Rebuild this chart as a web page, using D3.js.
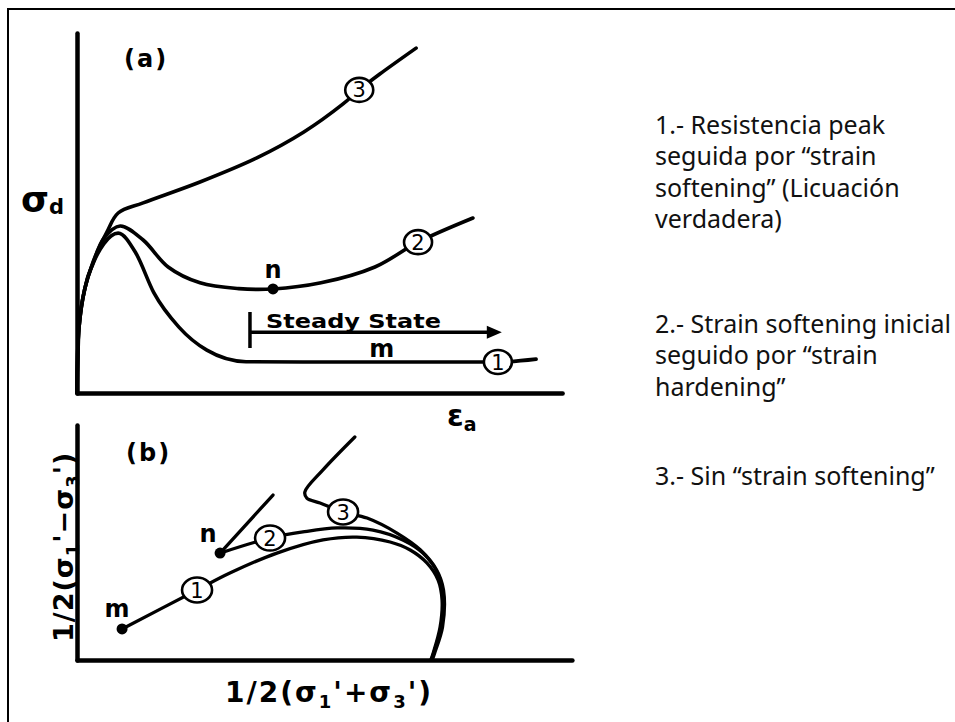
<!DOCTYPE html>
<html>
<head>
<meta charset="utf-8">
<script src="https://cdn.jsdelivr.net/npm/d3@7"></script>
<style>
  html, body { margin: 0; padding: 0; background: #fff; }
  svg { display: block; }
</style>
</head>
<body>
<svg id="fig" width="955" height="722"></svg>
<script>
// ---------- Panel (a): deviator stress vs axial strain ----------
const curveA1 = [[0,0],[0.04,1.8],[0.16,2.9],[0.33,3.6],[0.55,4.15],[0.84,4.44],[1.2,3.89],[1.57,2.78],[2.08,1.83],[2.65,1.19],[3.45,0.87],[4.6,0.86],[5.71,0.86],[7.2,0.86],[8.59,0.86],[9.37,0.94]];
const curveA2 = [[0,0],[0.04,1.8],[0.16,2.9],[0.33,3.62],[0.55,4.3],[0.88,4.64],[1.35,4.25],[1.86,3.5],[2.51,3.06],[3.3,2.9],[4.0,2.89],[4.98,3.06],[6.08,3.5],[6.96,4.19],[8.08,4.86]];
const curveA3 = [[0,0],[0.04,1.8],[0.16,2.9],[0.33,3.65],[0.61,4.47],[0.84,5.0],[1.35,5.28],[2.51,5.86],[3.67,6.53],[4.63,7.25],[5.43,8.03],[5.76,8.42],[6.18,8.86],[6.92,9.58]];
const tagsA = [{n:"1", x:8.59, y:0.86}, {n:"2", x:6.96, y:4.19}, {n:"3", x:5.76, y:8.42}];
const pointNA = {name:"n", x:4.0, y:2.89};
const steadyState = {label:"Steady State", x0:3.53, x1:8.67, y:1.69, tickLo:1.25, tickHi:2.25};
const labelMA = {name:"m", x:6.22, y:1.19};

// ---------- Panel (b): stress path ----------
const curveB1 = [[0.92,1.32],[2.45,2.98],[3.12,3.70],[4.08,4.55],[5.02,5.11],[5.71,5.23],[6.39,5.02],[6.80,4.68],[7.14,4.13],[7.37,3.40],[7.45,2.55],[7.41,1.40],[7.27,0.30],[7.22,0]];
const curveB2 = [[2.92,4.55],[3.94,5.19],[4.61,5.45],[5.31,5.62],[6.04,5.53],[6.65,5.11],[7.06,4.55],[7.36,3.70],[7.47,2.77],[7.43,1.40],[7.28,0.30],[7.23,0]];
const branchB2 = [[2.92,4.55],[4.0,7.02]];
const curveB3 = [[5.67,9.49],[5.02,8.09],[4.65,7.15],[4.69,6.89],[4.96,6.68],[5.43,6.30],[5.92,6.04],[6.53,5.40],[7.01,4.68],[7.34,3.83],[7.48,2.98],[7.46,1.40],[7.30,0.30],[7.25,0]];
const tagsB = [{n:"1", x:2.45, y:2.98}, {n:"2", x:3.94, y:5.19}, {n:"3", x:5.43, y:6.30}];
const pointsB = [{name:"m", x:0.92, y:1.32}, {name:"n", x:2.92, y:4.55}];

// ---------- Notes ----------
const notes = [
  ["1.- Resistencia peak", "seguida por \u201Cstrain", "softening\u201D (Licuaci\u00F3n", "verdadera)"],
  ["2.- Strain softening inicial", "seguido por \u201Cstrain", "hardening\u201D"],
  ["3.- Sin \u201Cstrain softening\u201D"]
];

const svg = d3.select("#fig");
const INK = "#000";
const letterFont = "'DejaVu Sans', sans-serif";

// page frame (top and left rules)
svg.append("path")
  .attr("d", "M8,722 V9 H955")
  .attr("fill", "none").attr("stroke", INK).attr("stroke-width", 2);

// scales
const xA = d3.scaleLinear().domain([0, 10]).range([77, 567]);
const yA = d3.scaleLinear().domain([0, 10]).range([393, 33]);
const xB = d3.scaleLinear().domain([0, 10]).range([77, 567]);
const yB = d3.scaleLinear().domain([0, 10]).range([660, 425]);

function drawAxes(xs, ys, xMax) {
  const xAxisScale = xs.copy().domain([0, xMax]).range([xs(0), xs(xMax)]);
  const gx = svg.append("g").attr("transform", `translate(0,${ys(0)})`)
    .call(d3.axisBottom(xAxisScale).tickValues([]).tickSizeOuter(0));
  const gy = svg.append("g").attr("transform", `translate(${xs(0)},0)`)
    .call(d3.axisLeft(ys).tickValues([]).tickSizeOuter(0));
  [gx, gy].forEach(g => g.select(".domain")
    .attr("stroke", INK).attr("stroke-width", 4.5).attr("stroke-linecap", "round"));
}
drawAxes(xA, yA, 9.9);
drawAxes(xB, yB, 10.1);

// flat residual branch uses a monotone spline; the others a centripetal spline
const lineAflat = d3.line().x(d => xA(d[0])).y(d => yA(d[1])).curve(d3.curveMonotoneX);
const lineA = d3.line().x(d => xA(d[0])).y(d => yA(d[1])).curve(d3.curveCatmullRom.alpha(0.5));
const lineB = d3.line().x(d => xB(d[0])).y(d => yB(d[1])).curve(d3.curveCatmullRom.alpha(0.5));

function drawCurve(gen, data, w) {
  svg.append("path").attr("d", gen(data))
    .attr("fill", "none").attr("stroke", INK).attr("stroke-width", w)
    .attr("stroke-linecap", "round").attr("stroke-linejoin", "round");
}

drawCurve(lineAflat, curveA1, 3.6);
drawCurve(lineA, curveA2, 3.6);
drawCurve(lineA, curveA3, 3.6);
[curveB1, curveB2, curveB3].forEach(c => drawCurve(lineB, c, 3.3));
drawCurve(d3.line().x(d => xB(d[0])).y(d => yB(d[1])), branchB2, 3.3);

// steady-state arrow
const ssY = yA(steadyState.y);
svg.append("line")
  .attr("x1", xA(steadyState.x0)).attr("x2", xA(steadyState.x1) - 10)
  .attr("y1", ssY).attr("y2", ssY)
  .attr("stroke", INK).attr("stroke-width", 3.5);
svg.append("line")
  .attr("x1", xA(steadyState.x0)).attr("x2", xA(steadyState.x0))
  .attr("y1", yA(steadyState.tickHi)).attr("y2", yA(steadyState.tickLo))
  .attr("stroke", INK).attr("stroke-width", 3.5);
const tip = xA(steadyState.x1);
svg.append("path")
  .attr("d", `M${tip},${ssY} L${tip - 15},${ssY - 6.5} L${tip - 15},${ssY + 6.5} Z`)
  .attr("fill", INK);
svg.append("text")
  .attr("x", xA(steadyState.x0) + 16).attr("y", ssY - 4)
  .attr("font-family", letterFont).attr("font-weight", "bold").attr("font-size", 20)
  .attr("textLength", 175).attr("lengthAdjust", "spacingAndGlyphs")
  .text(steadyState.label);

// numbered tags on the curves
function drawTags(tags, xs, ys, rx, ry, fs) {
  const g = svg.append("g").selectAll("g").data(tags).join("g")
    .attr("transform", d => `translate(${xs(d.x)},${ys(d.y)})`);
  g.append("ellipse").attr("rx", rx).attr("ry", ry)
    .attr("fill", "#fff").attr("stroke", INK).attr("stroke-width", 2.6);
  g.append("text").attr("text-anchor", "middle").attr("dy", "0.36em")
    .attr("font-family", letterFont).attr("font-size", fs)
    .text(d => d.n);
}
drawTags(tagsA, xA, yA, 14, 12, 21);
drawTags(tagsB, xB, yB, 15, 12.5, 21);

// state points
function drawPoint(p, xs, ys, dx, dy) {
  svg.append("circle").attr("cx", xs(p.x)).attr("cy", ys(p.y)).attr("r", 5.5).attr("fill", INK);
  svg.append("text").attr("x", xs(p.x) + dx).attr("y", ys(p.y) + dy)
    .attr("text-anchor", "middle")
    .attr("font-family", letterFont).attr("font-weight", "bold").attr("font-size", 24)
    .text(p.name);
}
drawPoint(pointNA, xA, yA, 0, -11);
drawPoint(pointsB[0], xB, yB, -5, -12);
drawPoint(pointsB[1], xB, yB, -12, -11);

svg.append("text").attr("x", xA(labelMA.x)).attr("y", yA(labelMA.y) + 7)
  .attr("text-anchor", "middle")
  .attr("font-family", letterFont).attr("font-weight", "bold").attr("font-size", 24)
  .text(labelMA.name);

// panel letters
[["(a)", 124, 67], ["(b)", 126, 461]].forEach(([t, x, y]) => {
  svg.append("text").attr("x", x).attr("y", y)
    .attr("font-family", letterFont).attr("font-weight", "bold").attr("font-size", 24)
    .attr("letter-spacing", 2)
    .text(t);
});

// axis titles
const sd = svg.append("text").attr("x", 21).attr("y", 212)
  .attr("font-family", letterFont).attr("font-weight", "bold").attr("font-size", 36);
sd.append("tspan").text("\u03C3");
sd.append("tspan").attr("font-size", 21).attr("dy", 2).text("d");

const ea = svg.append("text").attr("x", 447).attr("y", 426)
  .attr("font-family", letterFont).attr("font-weight", "bold").attr("font-size", 30);
ea.append("tspan").text("\u03B5");
ea.append("tspan").attr("font-size", 19).attr("dy", 5).text("a");

function stressLabel(sel, sign) {
  sel.append("tspan").text("1/2(\u03C3");
  sel.append("tspan").attr("font-size", 18).attr("dy", 6).text("1");
  sel.append("tspan").attr("dy", -6).text("'" + sign + "\u03C3");
  sel.append("tspan").attr("font-size", 18).attr("dy", 6).text("3");
  sel.append("tspan").attr("dy", -6).text("')");
}
const xl = svg.append("text").attr("x", 225).attr("y", 702)
  .attr("font-family", letterFont).attr("font-weight", "bold").attr("font-size", 28)
  .attr("letter-spacing", 2);
stressLabel(xl, "+");

const yl = svg.append("text")
  .attr("transform", "translate(73,642) rotate(-90)")
  .attr("font-family", letterFont).attr("font-weight", "bold").attr("font-size", 27)
  .attr("letter-spacing", 1);
stressLabel(yl, "\u2212");

// notes on the right
const blockTops = [134, 333, 485];
const lineGap = 31.3;
notes.forEach((block, i) => {
  block.forEach((txt, j) => {
    svg.append("text")
      .attr("x", 655).attr("y", blockTops[i] + j * lineGap)
      .attr("font-family", "'Noto Sans', sans-serif").attr("font-size", 25)
      .attr("fill", "#111")
      .text(txt);
  });
});
</script>
</body>
</html>
